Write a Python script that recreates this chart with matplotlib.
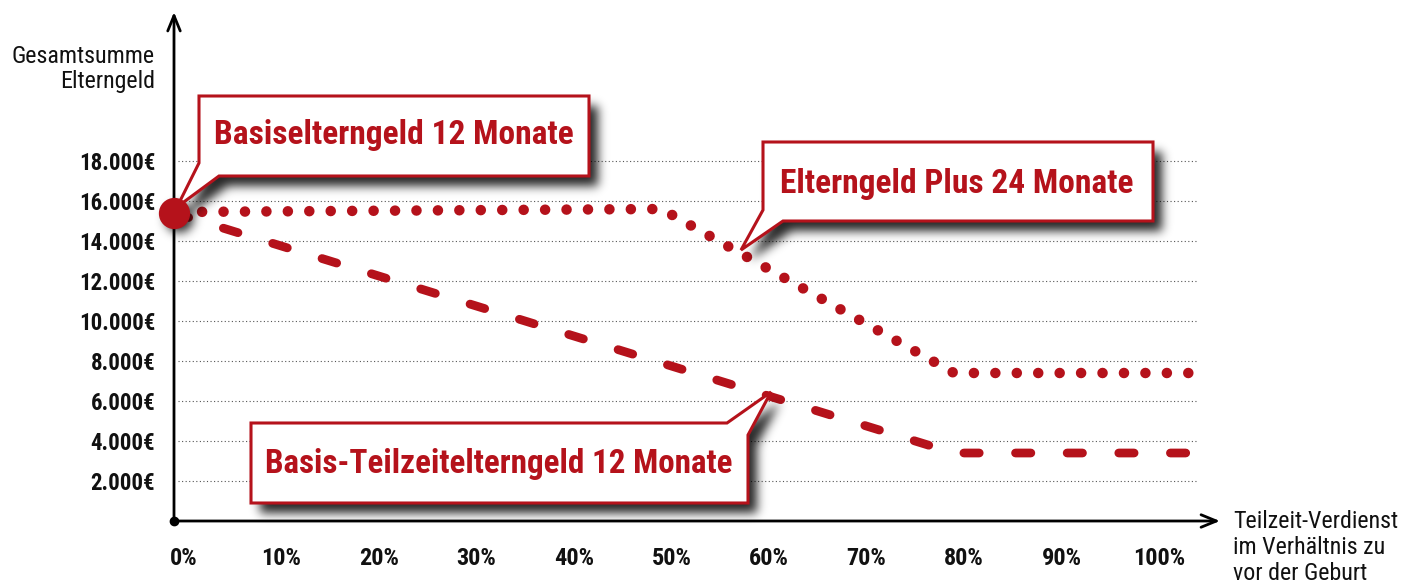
import numpy as np
import matplotlib
matplotlib.use("Agg")
import matplotlib.pyplot as plt
from matplotlib import font_manager as fm
from matplotlib.transforms import Affine2D, ScaledTranslation
from matplotlib.path import Path
from matplotlib.patches import Polygon

# ---------------- data ----------------
pct_ticks = [0, 10, 20, 30, 40, 50, 60, 70, 80, 90, 100]
pct_labels = ["0%", "10%", "20%", "30%", "40%", "50%", "60%", "70%", "80%", "90%", "100%"]
euro_ticks = [2000, 4000, 6000, 8000, 10000, 12000, 14000, 16000, 18000]
euro_labels = ["2.000€", "4.000€", "6.000€", "8.000€", "10.000€", "12.000€", "14.000€", "16.000€", "18.000€"]

plus_x = [0, 50, 80, 105]            # Elterngeld Plus 24 Monate
plus_y = [15450, 15600, 7400, 7400]
teil_x = [0, 80, 105]                 # Basis-Teilzeitelterngeld 12 Monate
teil_y = [15400, 3400, 3400]
basis_x = [0]                         # Basiselterngeld 12 Monate
basis_y = [15400]

label_basis = "Basiselterngeld 12 Monate"
label_plus = "Elterngeld Plus 24 Monate"
label_teil = "Basis-Teilzeitelterngeld 12 Monate"
y_title = ["Gesamtsumme", "Elterngeld"]
x_title = ["Teilzeit-Verdienst", "im Verhältnis zu", "vor der Geburt"]

# ---------------- style ----------------
W, H = 1416, 587
RED = "#B5121B"
avail = {f.name for f in fm.fontManager.ttflist}
FONT = "DejaVu Sans"
for cand in ["Roboto Condensed", "Open Sans Condensed", "Liberation Sans Narrow", "Lato"]:
    if cand in avail:
        FONT = cand
        break
plt.rcParams["font.family"] = [FONT, "DejaVu Sans"]

fig = plt.figure(figsize=(W / 100, H / 100), dpi=100)
fig.patch.set_facecolor("white")
X0, Y0, XR, YT = 174, 521, 1225, 8
PXX = 9.75     # px per percent
PXY = 0.02     # px per euro
ax = fig.add_axes([X0 / W, (H - Y0) / H, (XR - X0) / W, (Y0 - YT) / H])
ax.set_facecolor("none")
for s in ax.spines.values():
    s.set_visible(False)

# pixel transform (x right, y down, origin top-left of figure)
T = Affine2D().scale(1 / W, -1 / H).translate(0, 1) + fig.transFigure

def set_limits():
    ax.set_xlim(0, (XR - X0) / PXX)
    ax.set_ylim(0, (Y0 - YT) / PXY)

set_limits()

# grid lines
ax.hlines(euro_ticks, 0.4, plus_x[-1], colors="#555555", linestyles=(0, (1, 2.2)), lw=0.8, zorder=1)

# series
ax.plot(teil_x, teil_y, color=RED, lw=6.3, linestyle=(0, (1.75, 4.15)),
        dash_capstyle="round", zorder=3, clip_on=False)
ax.plot(plus_x, plus_y, color=RED, lw=7.6, linestyle=(1.4, (0.001, 2.03)),
        dash_capstyle="round", zorder=3, clip_on=False)
ax.plot(basis_x, basis_y, "o", ms=21.5, color=RED, mec=RED, zorder=7, clip_on=False)

# axes arrows
ax.annotate("", xy=(X0, 12), xytext=(X0, Y0), xycoords=T, textcoords=T,
            arrowprops=dict(arrowstyle="->,head_length=1.1,head_width=0.45", lw=2, color="black",
                            shrinkA=0, shrinkB=0), zorder=2, annotation_clip=False)
ax.annotate("", xy=(1220, Y0), xytext=(X0, Y0), xycoords=T, textcoords=T,
            arrowprops=dict(arrowstyle="->,head_length=1.1,head_width=0.45", lw=2, color="black",
                            shrinkA=0, shrinkB=0), zorder=2, annotation_clip=False)
ax.plot([0], [0], "o", ms=6, color="black", zorder=3, clip_on=False)

# ticks
ax.set_yticks(euro_ticks, euro_labels)
ax.set_xticks(pct_ticks, pct_labels)
ax.tick_params(axis="y", length=0, pad=13.5, labelsize=13)
ax.tick_params(axis="x", length=0, pad=18.5, labelsize=13)
for lbl in ax.get_yticklabels():
    lbl.set_fontweight("semibold")
    lbl.set_color("#111111")
for lbl in ax.get_xticklabels():
    lbl.set_fontweight("semibold")
    lbl.set_color("#111111")
    lbl.set_transform(lbl.get_transform() + ScaledTranslation(0.10, 0, fig.dpi_scale_trans))

renderer = fig.canvas.get_renderer()

def fit_width(artists, target):
    w = artists[0].get_window_extent(renderer).width
    fs = artists[0].get_fontsize() * target / w
    for a in artists:
        a.set_fontsize(fs)
    return fs

# fit tick label sizes to the reference widths
ylbls = ax.get_yticklabels()
w = ylbls[-1].get_window_extent(renderer).width
ax.tick_params(axis="y", labelsize=13 * 76 / w)
xlbls = ax.get_xticklabels()
w = xlbls[1].get_window_extent(renderer).width
ax.tick_params(axis="x", labelsize=13 * 40 / w)

# axis titles
t1 = [ax.text(155, b, s, transform=T, ha="right", va="baseline", fontsize=14, color="#111111")
      for s, b in zip(y_title, [63, 88])]
fit_width(t1, 144)
t2 = [ax.text(1233, b, s, transform=T, ha="left", va="baseline", fontsize=14, color="#111111")
      for s, b in zip(x_title, [528, 554, 580])]
fit_width(t2, 166)

# ---------------- callouts ----------------
callouts = [
    dict(pts=[(199, 96), (589, 96), (589, 176), (219, 176), (177, 207), (199, 163)],
         text=label_basis, tx=394, ty=144, tw=359),
    dict(pts=[(763, 142), (1153, 142), (1153, 221), (783, 221), (741, 250), (763, 210)],
         text=label_plus, tx=957, ty=193, tw=353),
    dict(pts=[(251, 423), (727, 423), (771, 392), (748, 435), (748, 503), (251, 503)],
         text=label_teil, tx=499, ty=473, tw=466),
]

# soft drop shadow mask
yy, xx = np.mgrid[0:H, 0:W]
grid = np.c_[xx.ravel() + 0.5, yy.ravel() + 0.5]
mask = np.zeros((H, W))
SDX, SDY = 9, 10
for c in callouts:
    pts = [(x + SDX, y + SDY) for x, y in c["pts"]]
    mask = np.maximum(mask, Path(pts + [pts[0]], closed=True).contains_points(grid).reshape(H, W))
# shadow of the big dot
dx, dy = ax.transData.transform((basis_x[0], basis_y[0]))
cx, cy = dx, H - dy
mask = np.maximum(mask, (((xx - cx - 5) ** 2 + (yy - cy - 5) ** 2) <= 14 ** 2).astype(float))

def blur(a, s):
    r = int(3 * s)
    k = np.exp(-0.5 * (np.arange(-r, r + 1) / s) ** 2)
    k /= k.sum()
    p = np.pad(a, ((0, 0), (r, r)))
    out = np.zeros_like(a)
    for i, wk in enumerate(k):
        out += wk * p[:, i:i + a.shape[1]]
    p = np.pad(out, ((r, r), (0, 0)))
    out2 = np.zeros_like(a)
    for i, wk in enumerate(k):
        out2 += wk * p[i:i + a.shape[0], :]
    return out2

sh = blur(mask, 5.0)
rgba = np.zeros((H, W, 4))
rgba[..., 3] = np.clip(sh * 0.85, 0, 1)
im = ax.imshow(rgba, extent=(0, W, H, 0), transform=T, zorder=4, interpolation="bilinear",
               aspect="auto")
im.set_clip_on(False)

for c in callouts:
    ax.add_patch(Polygon(c["pts"], closed=True, transform=T, facecolor="white", edgecolor=RED,
                         lw=2.2, joinstyle="miter", zorder=5, clip_on=False))
    t = ax.text(c["tx"], c["ty"], c["text"], transform=T, ha="center", va="baseline",
                color=RED, fontweight="bold", fontsize=20, zorder=6)
    fit_width([t], c["tw"])

set_limits()
fig.savefig("out.png", dpi=100, facecolor="white")
